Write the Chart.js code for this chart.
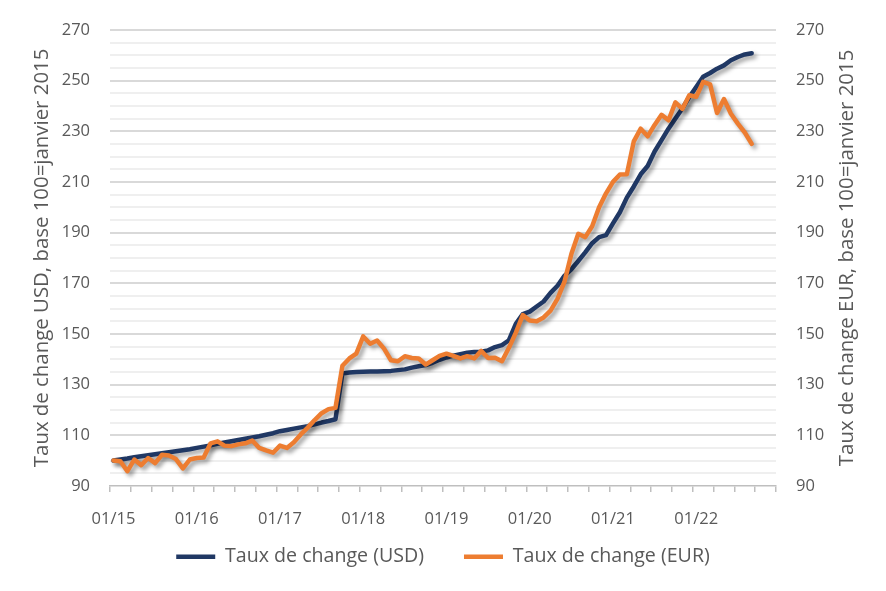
<!DOCTYPE html>
<html>
<head>
<meta charset="utf-8">
<script src="https://cdn.jsdelivr.net/npm/chart.js@4.4.1/dist/chart.umd.min.js"></script>
<style>
html,body{margin:0;padding:0;background:#fff;}
canvas{display:block;}
</style>
</head>
<body>
<canvas id="c" width="886" height="591"></canvas>
<script>
// ---- data ----
const years = ['15','16','17','18','19','20','21','22'];
const monthNums = ['01','02','03','04','05','06','07','08','09','10','11','12'];
const categories = [];
years.forEach(y => monthNums.forEach(m => categories.push(m + '/' + y)));

const usdValues = [
  100, 100.4, 100.8, 101.3, 101.7, 102.1, 102.5, 102.9, 103.3, 103.7, 104.1, 104.5,
  105, 105.5, 106, 106.6, 107.1, 107.6, 108.1, 108.6, 109.1, 109.6, 110.2, 110.8,
  111.6, 112.1, 112.6, 113.1, 113.6, 114.3, 115, 115.6, 116.3, 134.4, 134.8, 135,
  135.1, 135.2, 135.2, 135.3, 135.4, 135.7, 136, 136.7, 137.2, 137.7, 138.6, 139.8,
  140.7, 141.4, 142, 142.6, 142.9, 143, 143.5, 144.8, 145.6, 147.5, 154, 157.8,
  158.8, 160.8, 162.8, 166.2, 169, 172.9, 175.5, 178.8, 182.2, 185.8, 188.2, 189,
  193.6, 198, 203.8, 208.2, 213, 216.3, 222, 226.5, 231, 235, 239, 243.5,
  247.5, 251.5, 253, 254.7, 256, 258, 259.3, 260.3, 260.8
];
const eurValues = [
  100, 99.7, 95.8, 100.4, 98.2, 101, 99, 102.3, 102, 100.6, 96.9, 100.4,
  101, 101.2, 106.8, 107.6, 105.9, 105.7, 106.4, 106.8, 107.9, 105, 104, 103.1,
  105.9, 105, 107.2, 110.3, 113, 116, 118.7, 120.3, 120.8, 137.4, 140.3, 142.2,
  149, 146.1, 147.4, 144.2, 139.6, 139.2, 141.2, 140.5, 140.3, 137.9, 139.6, 141.3,
  142.2, 141.3, 140.3, 141.2, 140.3, 143.3, 140.5, 140.6, 139.2, 144.5, 150.5, 157.4,
  155.3, 155, 156.5, 159.2, 163.8, 170.5, 181.5, 189.5, 188.2, 192.5, 200, 205.5,
  210, 212.9, 213, 226, 231, 228, 232.5, 236.5, 234.3, 241.4, 238.8, 244.2,
  243.6, 249.5, 248.5, 237.2, 242.7, 236.9, 233, 229.5, 225
];
const seriesNames = ['Taux de change (USD)', 'Taux de change (EUR)'];
const yTitleLeft = 'Taux de change USD, base 100=janvier 2015';
const yTitleRight = 'Taux de change EUR, base 100=janvier 2015';
const yMin = 90, yMax = 270;

// ---- style ----
const FONT = "'Open Sans', 'Noto Sans', sans-serif";
const TEXT = '#595959';
const NAVY = '#203864';
const ORANGE = '#ED7D31';
const TITLE_SIZE = 20.4;

const shadowPlugin = {
  id: 'lineShadow',
  beforeDatasetDraw(chart) {
    const ctx = chart.ctx;
    ctx.save();
    ctx.shadowColor = 'rgba(0,0,0,0.38)';
    ctx.shadowBlur = 4;
    ctx.shadowOffsetX = 3;
    ctx.shadowOffsetY = 3;
  },
  afterDatasetDraw(chart) { chart.ctx.restore(); }
};

// let x tick labels extend below the (compact) x-axis box without being clipped
const labelRoomPlugin = {
  id: 'labelRoom',
  afterLayout(chart) {
    const x = chart.scales.x;
    x.bottom = x.top + 50;
  }
};

const rightTitlePlugin = {
  id: 'rightTitle',
  afterDraw(chart) {
    const ctx = chart.ctx;
    const s = chart.scales.y2;
    const ca = chart.chartArea;
    ctx.save();
    ctx.translate(s.right - 39, (ca.top + ca.bottom) / 2);
    ctx.rotate(-Math.PI / 2);
    ctx.font = TITLE_SIZE + 'px ' + FONT;
    ctx.fillStyle = TEXT;
    ctx.textAlign = 'center';
    ctx.textBaseline = 'middle';
    ctx.fillText(yTitleRight, 0, 0);
    ctx.restore();
  }
};

const isMajor = v => ((v - yMin) % 20) === 0;

new Chart(document.getElementById('c'), {
  type: 'line',
  data: {
    labels: categories,
    datasets: [
      {
        label: seriesNames[0], data: usdValues, borderColor: NAVY, backgroundColor: NAVY,
        borderWidth: 4.5, pointRadius: 0, tension: 0, borderJoinStyle: 'round', borderCapStyle: 'round',
        yAxisID: 'y', order: 1
      },
      {
        label: seriesNames[1], data: eurValues, borderColor: ORANGE, backgroundColor: ORANGE,
        borderWidth: 4.5, pointRadius: 0, tension: 0, borderJoinStyle: 'round', borderCapStyle: 'round',
        yAxisID: 'y2', order: 0
      }
    ]
  },
  options: {
    responsive: false,
    animation: false,
    layout: { padding: { top: 23, left: 0, right: 0, bottom: 14.5 } },
    plugins: {
      tooltip: { enabled: false },
      legend: {
        position: 'bottom',
        labels: {
          usePointStyle: true, pointStyle: 'line', pointStyleWidth: 39,
          padding: 40, color: TEXT, font: { family: FONT, size: 19.6 },
          sort: (a, b) => a.datasetIndex - b.datasetIndex
        }
      }
    },
    scales: {
      x: {
        type: 'category',
        offset: true,
        afterFit(scale) { scale.height = 21; },
        grid: {
          offset: true, drawOnChartArea: false, drawTicks: true, tickLength: 6,
          lineWidth: 1.5,
          color: ctx => (ctx.index === undefined || ctx.index % 3 === 0) ? '#bfbfbf' : 'rgba(0,0,0,0)'
        },
        border: { display: true, color: '#bfbfbf', width: 1.5 },
        ticks: {
          autoSkip: false, maxRotation: 0, minRotation: 0, padding: 17,
          color: TEXT, font: { family: FONT, size: 16.5 },
          callback: function (val, idx) { return idx % 12 === 0 ? categories[idx] : ''; }
        }
      },
      y: {
        position: 'left', min: yMin, max: yMax,
        afterFit(scale) { scale.width = 110; },
        grid: {
          drawTicks: false, lineWidth: 2,
          color: ctx => {
            const v = ctx.tick ? ctx.tick.value : null;
            if (v === yMin) return 'rgba(0,0,0,0)';
            return isMajor(v) ? '#d9d9d9' : '#efefef';
          }
        },
        border: { display: false },
        ticks: {
          stepSize: 5, autoSkip: false, maxTicksLimit: 100, padding: 20,
          color: TEXT, font: { family: FONT, size: 16.5 },
          callback: v => isMajor(v) ? String(v) : ''
        },
        title: {
          display: true, text: yTitleLeft, color: TEXT,
          font: { family: FONT, size: TITLE_SIZE }, padding: { top: 30, bottom: 0 }
        }
      },
      y2: {
        position: 'right', min: yMin, max: yMax,
        afterFit(scale) { scale.width = 110; },
        grid: { drawOnChartArea: false, drawTicks: false },
        border: { display: false },
        ticks: {
          stepSize: 5, autoSkip: false, maxTicksLimit: 100, padding: 20,
          color: TEXT, font: { family: FONT, size: 16.5 },
          callback: v => isMajor(v) ? String(v) : ''
        }
      }
    }
  },
  plugins: [shadowPlugin, labelRoomPlugin, rightTitlePlugin]
});
</script>
</body>
</html>
